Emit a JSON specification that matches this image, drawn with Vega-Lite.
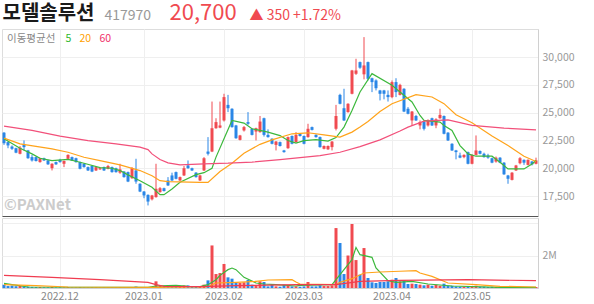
{
"$schema": "https://vega.github.io/schema/vega-lite/v6.json",
"padding": {"left": 1, "top": 1, "right": 0, "bottom": 0},
"autosize": {"type": "pad"},
"background": "white",
"config": {
  "font": "Noto Sans CJK KR",
  "view": {"stroke": null},
  "axis": {"labelFont": "Noto Sans CJK KR", "labelColor": "#999", "labelFontSize": 10.5, "ticks": false, "gridColor": "#efefef", "domainColor": "#d0d0d0"}
},
"datasets": {
"k": [
{"d":"2022-11-11","o":23200,"h":23250,"l":22100,"c":22250,"v":200000},
{"d":"2022-11-14","o":22350,"h":22400,"l":21800,"c":22050,"v":120000},
{"d":"2022-11-15","o":21950,"h":22050,"l":21650,"c":21750,"v":150000},
{"d":"2022-11-16","o":21800,"h":21850,"l":21350,"c":21400,"v":110000},
{"d":"2022-11-17","o":21300,"h":22000,"l":21250,"c":21850,"v":130000},
{"d":"2022-11-18","o":22100,"h":22500,"l":21600,"c":21900,"v":100000},
{"d":"2022-11-21","o":21600,"h":21650,"l":20850,"c":20900,"v":90000},
{"d":"2022-11-22","o":21000,"h":21200,"l":20600,"c":20700,"v":70000},
{"d":"2022-11-23","o":21000,"h":21050,"l":20600,"c":20650,"v":60000},
{"d":"2022-11-24","o":20550,"h":20950,"l":20500,"c":20900,"v":60000},
{"d":"2022-11-25","o":20900,"h":20950,"l":20650,"c":20700,"v":50000},
{"d":"2022-11-28","o":20700,"h":20750,"l":20300,"c":20350,"v":50000},
{"d":"2022-11-29","o":20000,"h":20450,"l":19800,"c":20400,"v":70000},
{"d":"2022-11-30","o":20550,"h":20600,"l":20300,"c":20350,"v":40000},
{"d":"2022-12-01","o":20750,"h":20850,"l":20500,"c":20550,"v":50000},
{"d":"2022-12-02","o":20400,"h":20700,"l":20100,"c":20650,"v":40000},
{"d":"2022-12-05","o":20850,"h":21250,"l":20800,"c":21200,"v":60000},
{"d":"2022-12-06","o":21000,"h":21050,"l":20650,"c":20700,"v":40000},
{"d":"2022-12-07","o":20900,"h":20950,"l":20500,"c":20550,"v":40000},
{"d":"2022-12-08","o":20550,"h":20600,"l":19900,"c":19950,"v":60000},
{"d":"2022-12-09","o":20400,"h":20450,"l":20050,"c":20100,"v":40000},
{"d":"2022-12-12","o":20100,"h":20150,"l":19750,"c":19800,"v":40000},
{"d":"2022-12-13","o":20200,"h":20250,"l":19650,"c":19700,"v":50000},
{"d":"2022-12-14","o":19800,"h":20150,"l":19750,"c":20100,"v":40000},
{"d":"2022-12-15","o":19900,"h":20100,"l":19850,"c":20000,"v":30000},
{"d":"2022-12-16","o":20100,"h":20150,"l":19750,"c":19800,"v":40000},
{"d":"2022-12-19","o":19950,"h":20300,"l":19900,"c":20200,"v":40000},
{"d":"2022-12-20","o":20100,"h":20150,"l":19600,"c":19650,"v":40000},
{"d":"2022-12-21","o":20000,"h":20050,"l":19600,"c":19650,"v":40000},
{"d":"2022-12-22","o":19600,"h":20400,"l":19500,"c":19900,"v":60000},
{"d":"2022-12-23","o":19700,"h":19750,"l":19150,"c":19200,"v":50000},
{"d":"2022-12-26","o":19650,"h":19700,"l":18750,"c":18800,"v":60000},
{"d":"2022-12-27","o":19100,"h":20100,"l":19050,"c":20000,"v":60000},
{"d":"2022-12-28","o":19800,"h":20850,"l":18600,"c":18800,"v":90000},
{"d":"2022-12-29","o":18600,"h":18650,"l":17850,"c":17900,"v":60000},
{"d":"2023-01-02","o":17900,"h":17950,"l":17300,"c":17550,"v":50000},
{"d":"2023-01-03","o":17600,"h":17650,"l":16650,"c":17000,"v":60000},
{"d":"2023-01-04","o":17200,"h":17600,"l":17100,"c":17550,"v":40000},
{"d":"2023-01-05","o":17400,"h":20400,"l":17350,"c":18150,"v":410000},
{"d":"2023-01-06","o":17850,"h":18300,"l":17800,"c":18200,"v":120000},
{"d":"2023-01-09","o":18200,"h":18250,"l":17900,"c":17950,"v":60000},
{"d":"2023-01-10","o":18900,"h":19200,"l":18400,"c":18450,"v":100000},
{"d":"2023-01-11","o":19350,"h":19600,"l":18850,"c":18900,"v":110000},
{"d":"2023-01-12","o":19650,"h":19700,"l":19000,"c":19050,"v":120000},
{"d":"2023-01-13","o":18900,"h":19250,"l":18850,"c":19200,"v":80000},
{"d":"2023-01-16","o":19350,"h":20200,"l":19300,"c":20000,"v":160000},
{"d":"2023-01-17","o":20250,"h":20700,"l":19950,"c":20000,"v":160000},
{"d":"2023-01-18","o":20000,"h":20050,"l":19750,"c":19800,"v":90000},
{"d":"2023-01-19","o":19600,"h":19650,"l":19150,"c":19200,"v":80000},
{"d":"2023-01-20","o":18900,"h":19400,"l":18850,"c":19350,"v":80000},
{"d":"2023-01-25","o":19800,"h":21000,"l":19750,"c":20900,"v":205000},
{"d":"2023-01-26","o":21500,"h":22800,"l":21150,"c":21300,"v":470000},
{"d":"2023-01-27","o":21500,"h":26000,"l":21450,"c":23600,"v":2620000},
{"d":"2023-01-30","o":23600,"h":24500,"l":23550,"c":24150,"v":860000},
{"d":"2023-01-31","o":23650,"h":26000,"l":23600,"c":23850,"v":920000},
{"d":"2023-02-01","o":24300,"h":26700,"l":24200,"c":26400,"v":1480000},
{"d":"2023-02-02","o":25700,"h":26600,"l":25050,"c":25400,"v":656000},
{"d":"2023-02-03","o":25350,"h":25400,"l":23650,"c":23700,"v":574000},
{"d":"2023-02-06","o":23850,"h":23900,"l":22650,"c":22700,"v":350000},
{"d":"2023-02-07","o":22550,"h":23000,"l":22500,"c":22950,"v":310000},
{"d":"2023-02-08","o":23400,"h":23800,"l":23300,"c":23700,"v":350000},
{"d":"2023-02-09","o":24150,"h":25050,"l":23900,"c":24000,"v":490000},
{"d":"2023-02-10","o":23550,"h":23600,"l":22950,"c":23000,"v":205000},
{"d":"2023-02-13","o":23300,"h":23650,"l":22500,"c":23600,"v":120000},
{"d":"2023-02-14","o":23250,"h":24700,"l":23200,"c":24200,"v":410000},
{"d":"2023-02-15","o":24500,"h":24550,"l":22850,"c":23000,"v":370000},
{"d":"2023-02-16","o":23000,"h":23500,"l":22750,"c":22800,"v":100000},
{"d":"2023-02-17","o":22650,"h":22700,"l":22150,"c":22200,"v":205000},
{"d":"2023-02-20","o":22100,"h":22450,"l":21600,"c":22400,"v":100000},
{"d":"2023-02-21","o":22350,"h":22400,"l":21950,"c":22000,"v":80000},
{"d":"2023-02-22","o":21600,"h":21650,"l":21400,"c":21450,"v":205000},
{"d":"2023-02-23","o":21800,"h":22850,"l":21750,"c":22800,"v":165000},
{"d":"2023-02-24","o":22900,"h":22950,"l":22150,"c":22200,"v":100000},
{"d":"2023-02-27","o":22350,"h":23250,"l":22300,"c":23000,"v":100000},
{"d":"2023-02-28","o":23100,"h":23150,"l":22850,"c":22900,"v":80000},
{"d":"2023-03-02","o":22900,"h":22950,"l":22150,"c":22200,"v":100000},
{"d":"2023-03-03","o":22800,"h":24000,"l":22750,"c":23550,"v":370000},
{"d":"2023-03-06","o":23700,"h":23750,"l":23400,"c":23450,"v":100000},
{"d":"2023-03-07","o":23000,"h":23050,"l":22750,"c":22800,"v":100000},
{"d":"2023-03-08","o":22800,"h":22850,"l":21850,"c":21900,"v":165000},
{"d":"2023-03-09","o":21750,"h":22050,"l":21700,"c":22000,"v":120000},
{"d":"2023-03-10","o":21700,"h":22050,"l":21650,"c":22000,"v":120000},
{"d":"2023-03-13","o":21900,"h":22450,"l":21600,"c":22400,"v":165000},
{"d":"2023-03-14","o":23550,"h":25700,"l":23400,"c":24700,"v":3690000},
{"d":"2023-03-15","o":26600,"h":26700,"l":25750,"c":25800,"v":2770000},
{"d":"2023-03-16","o":25400,"h":27150,"l":24250,"c":24300,"v":860000},
{"d":"2023-03-17","o":25050,"h":25850,"l":25000,"c":25800,"v":2000000},
{"d":"2023-03-20","o":26700,"h":28850,"l":26650,"c":28800,"v":3940000},
{"d":"2023-03-21","o":28500,"h":29850,"l":28400,"c":28800,"v":1720000},
{"d":"2023-03-22","o":29550,"h":29600,"l":28950,"c":29050,"v":820000},
{"d":"2023-03-23","o":28450,"h":31800,"l":28000,"c":29250,"v":2460000},
{"d":"2023-03-24","o":29550,"h":29600,"l":27900,"c":28050,"v":615000},
{"d":"2023-03-27","o":28100,"h":28150,"l":26850,"c":27750,"v":350000},
{"d":"2023-03-28","o":27900,"h":28000,"l":27000,"c":27200,"v":310000},
{"d":"2023-03-29","o":27000,"h":27050,"l":26100,"c":26700,"v":370000},
{"d":"2023-03-30","o":27000,"h":27050,"l":26200,"c":26700,"v":370000},
{"d":"2023-03-31","o":26600,"h":27000,"l":26000,"c":26400,"v":410000},
{"d":"2023-04-03","o":26400,"h":27900,"l":26300,"c":27750,"v":510000},
{"d":"2023-04-04","o":27750,"h":28100,"l":26400,"c":26850,"v":615000},
{"d":"2023-04-05","o":26600,"h":27600,"l":26550,"c":27500,"v":410000},
{"d":"2023-04-06","o":27150,"h":27200,"l":25050,"c":25100,"v":470000},
{"d":"2023-04-07","o":25350,"h":25500,"l":24850,"c":24900,"v":246000},
{"d":"2023-04-10","o":24300,"h":25150,"l":23800,"c":25100,"v":267000},
{"d":"2023-04-11","o":24700,"h":24800,"l":24250,"c":24300,"v":246000},
{"d":"2023-04-12","o":23850,"h":24300,"l":23500,"c":24150,"v":205000},
{"d":"2023-04-13","o":24200,"h":24250,"l":23400,"c":23550,"v":165000},
{"d":"2023-04-14","o":23850,"h":24400,"l":23750,"c":24300,"v":205000},
{"d":"2023-04-17","o":24500,"h":24550,"l":23800,"c":23850,"v":140000},
{"d":"2023-04-18","o":23850,"h":24500,"l":23600,"c":24400,"v":205000},
{"d":"2023-04-19","o":24500,"h":25350,"l":24450,"c":24800,"v":140000},
{"d":"2023-04-20","o":24700,"h":24750,"l":23050,"c":23100,"v":267000},
{"d":"2023-04-21","o":23200,"h":23250,"l":22450,"c":22500,"v":140000},
{"d":"2023-04-24","o":22200,"h":22250,"l":21550,"c":21600,"v":140000},
{"d":"2023-04-25","o":21600,"h":21650,"l":20800,"c":21450,"v":100000},
{"d":"2023-04-26","o":21150,"h":21400,"l":20900,"c":20950,"v":80000},
{"d":"2023-04-27","o":21000,"h":21250,"l":20900,"c":21200,"v":80000},
{"d":"2023-04-28","o":21450,"h":21500,"l":20350,"c":20400,"v":100000},
{"d":"2023-05-02","o":20400,"h":21250,"l":20350,"c":21200,"v":100000},
{"d":"2023-05-03","o":21200,"h":22950,"l":21150,"c":21600,"v":140000},
{"d":"2023-05-04","o":21550,"h":21600,"l":21250,"c":21300,"v":80000},
{"d":"2023-05-08","o":21300,"h":21400,"l":20950,"c":21000,"v":80000},
{"d":"2023-05-09","o":21150,"h":21300,"l":20850,"c":20950,"v":60000},
{"d":"2023-05-10","o":20900,"h":20950,"l":20450,"c":20500,"v":80000},
{"d":"2023-05-11","o":20600,"h":21050,"l":20500,"c":20950,"v":60000},
{"d":"2023-05-12","o":20950,"h":21000,"l":20450,"c":20500,"v":60000},
{"d":"2023-05-15","o":20500,"h":20550,"l":19400,"c":19450,"v":100000},
{"d":"2023-05-16","o":19350,"h":19400,"l":18600,"c":19050,"v":80000},
{"d":"2023-05-17","o":18950,"h":19650,"l":18900,"c":19600,"v":60000},
{"d":"2023-05-18","o":19800,"h":20300,"l":19750,"c":20250,"v":60000},
{"d":"2023-05-19","o":20450,"h":21000,"l":20350,"c":20900,"v":80000},
{"d":"2023-05-22","o":20750,"h":20800,"l":20300,"c":20500,"v":50000},
{"d":"2023-05-23","o":20300,"h":20800,"l":20250,"c":20750,"v":60000},
{"d":"2023-05-24","o":20600,"h":20650,"l":20250,"c":20350,"v":40000},
{"d":"2023-05-25","o":20400,"h":20950,"l":20350,"c":20700,"v":60000}
],
"ma": [
{"d":"2022-11-11","s":"5","p":22650},{"d":"2022-11-17","s":"5","p":21800},{"d":"2022-11-22","s":"5","p":21290},{"d":"2022-11-24","s":"5","p":20900},{"d":"2022-11-29","s":"5","p":20690},{"d":"2022-12-05","s":"5","p":20800},{"d":"2022-12-07","s":"5","p":20630},{"d":"2022-12-09","s":"5","p":20450},{"d":"2022-12-15","s":"5","p":20050},{"d":"2022-12-20","s":"5","p":20000},{"d":"2022-12-22","s":"5","p":19790},{"d":"2022-12-26","s":"5","p":19400},{"d":"2022-12-29","s":"5","p":18880},{"d":"2023-01-04","s":"5","p":18280},{"d":"2023-01-06","s":"5","p":17620},{"d":"2023-01-09","s":"5","p":17620},{"d":"2023-01-11","s":"5","p":18130},{"d":"2023-01-13","s":"5","p":18730},{"d":"2023-01-19","s":"5","p":19420},{"d":"2023-01-25","s":"5","p":19600},{"d":"2023-01-27","s":"5","p":20000},{"d":"2023-01-30","s":"5","p":21000},{"d":"2023-02-01","s":"5","p":22650},{"d":"2023-02-03","s":"5","p":24300},{"d":"2023-02-08","s":"5","p":24060},{"d":"2023-02-10","s":"5","p":23550},{"d":"2023-02-14","s":"5","p":23400},{"d":"2023-02-16","s":"5","p":23250},{"d":"2023-02-21","s":"5","p":22940},{"d":"2023-02-23","s":"5","p":22490},{"d":"2023-02-27","s":"5","p":22260},{"d":"2023-03-02","s":"5","p":22490},{"d":"2023-03-07","s":"5","p":22580},{"d":"2023-03-10","s":"5","p":22440},{"d":"2023-03-14","s":"5","p":22760},{"d":"2023-03-16","s":"5","p":23700},{"d":"2023-03-20","s":"5","p":25200},{"d":"2023-03-22","s":"5","p":26860},{"d":"2023-03-27","s":"5","p":28510},{"d":"2023-04-03","s":"5","p":27460},{"d":"2023-04-05","s":"5","p":26860},{"d":"2023-04-10","s":"5","p":25960},{"d":"2023-04-12","s":"5","p":24750},{"d":"2023-04-13","s":"5","p":24300},{"d":"2023-04-19","s":"5","p":24150},{"d":"2023-04-20","s":"5","p":23850},{"d":"2023-04-24","s":"5","p":23400},{"d":"2023-04-26","s":"5","p":22040},{"d":"2023-04-28","s":"5","p":21290},{"d":"2023-05-03","s":"5","p":21080},{"d":"2023-05-10","s":"5","p":21080},{"d":"2023-05-12","s":"5","p":20540},{"d":"2023-05-16","s":"5","p":19940},{"d":"2023-05-22","s":"5","p":19940},{"d":"2023-05-24","s":"5","p":20390},{"d":"2023-05-25","s":"5","p":20690},
{"d":"2022-11-11","s":"20","p":22710},{"d":"2022-11-17","s":"20","p":22190},{"d":"2022-11-29","s":"20","p":21740},{"d":"2022-12-05","s":"20","p":21440},{"d":"2022-12-09","s":"20","p":20990},{"d":"2022-12-15","s":"20","p":20690},{"d":"2022-12-22","s":"20","p":20300},{"d":"2022-12-29","s":"20","p":19790},{"d":"2023-01-04","s":"20","p":19330},{"d":"2023-01-06","s":"20","p":18880},{"d":"2023-01-10","s":"20","p":18790},{"d":"2023-01-20","s":"20","p":18730},{"d":"2023-01-26","s":"20","p":18730},{"d":"2023-01-31","s":"20","p":19700},{"d":"2023-02-03","s":"20","p":20450},{"d":"2023-02-08","s":"20","p":21350},{"d":"2023-02-14","s":"20","p":22150},{"d":"2023-02-17","s":"20","p":22550},{"d":"2023-02-24","s":"20","p":23100},{"d":"2023-03-03","s":"20","p":23190},{"d":"2023-03-09","s":"20","p":23000},{"d":"2023-03-15","s":"20","p":22800},{"d":"2023-03-20","s":"20","p":23250},{"d":"2023-03-22","s":"20","p":23700},{"d":"2023-03-24","s":"20","p":24200},{"d":"2023-03-29","s":"20","p":25100},{"d":"2023-04-03","s":"20","p":25810},{"d":"2023-04-11","s":"20","p":26620},{"d":"2023-04-17","s":"20","p":26410},{"d":"2023-04-20","s":"20","p":25810},{"d":"2023-04-25","s":"20","p":24810},{"d":"2023-05-02","s":"20","p":24090},{"d":"2023-05-10","s":"20","p":22890},{"d":"2023-05-16","s":"20","p":22040},{"d":"2023-05-22","s":"20","p":21080},{"d":"2023-05-25","s":"20","p":20600},
{"d":"2022-11-11","s":"60","p":23790},{"d":"2022-11-22","s":"60","p":23400},{"d":"2022-12-01","s":"60","p":22890},{"d":"2022-12-12","s":"60","p":22490},{"d":"2022-12-21","s":"60","p":22190},{"d":"2022-12-29","s":"60","p":21900},{"d":"2023-01-03","s":"60","p":21680},{"d":"2023-01-04","s":"60","p":21290},{"d":"2023-01-06","s":"60","p":20780},{"d":"2023-01-10","s":"60","p":20480},{"d":"2023-01-13","s":"60","p":20300},{"d":"2023-01-25","s":"60","p":20400},{"d":"2023-02-02","s":"60","p":20450},{"d":"2023-02-10","s":"60","p":20550},{"d":"2023-02-21","s":"60","p":20780},{"d":"2023-03-08","s":"60","p":21140},{"d":"2023-03-15","s":"60","p":21440},{"d":"2023-03-22","s":"60","p":21950},{"d":"2023-03-29","s":"60","p":22550},{"d":"2023-04-05","s":"60","p":23350},{"d":"2023-04-07","s":"60","p":23700},{"d":"2023-04-13","s":"60","p":24240},{"d":"2023-04-21","s":"60","p":24350},{"d":"2023-05-02","s":"60","p":23850},{"d":"2023-05-15","s":"60","p":23610},{"d":"2023-05-25","s":"60","p":23460}
],
"vma": [
{"d":"2022-11-11","s":"5","v":287000},{"d":"2022-11-21","s":"5","v":62000},{"d":"2023-01-03","s":"5","v":41000},{"d":"2023-01-05","s":"5","v":123000},{"d":"2023-01-10","s":"5","v":144000},{"d":"2023-01-12","s":"5","v":164000},{"d":"2023-01-17","s":"5","v":103000},{"d":"2023-01-20","s":"5","v":82000},{"d":"2023-01-26","s":"5","v":205000},{"d":"2023-01-30","s":"5","v":512000},{"d":"2023-01-31","s":"5","v":779000},{"d":"2023-02-02","s":"5","v":1130000},{"d":"2023-02-03","s":"5","v":1230000},{"d":"2023-02-06","s":"5","v":1130000},{"d":"2023-02-08","s":"5","v":656000},{"d":"2023-02-13","s":"5","v":308000},{"d":"2023-02-15","s":"5","v":246000},{"d":"2023-02-20","s":"5","v":205000},{"d":"2023-02-27","s":"5","v":123000},{"d":"2023-02-28","s":"5","v":164000},{"d":"2023-03-13","s":"5","v":205000},{"d":"2023-03-14","s":"5","v":512000},{"d":"2023-03-16","s":"5","v":1130000},{"d":"2023-03-20","s":"5","v":1740000},{"d":"2023-03-21","s":"5","v":2500000},{"d":"2023-03-22","s":"5","v":2050000},{"d":"2023-03-27","s":"5","v":1890000},{"d":"2023-03-28","s":"5","v":1230000},{"d":"2023-03-31","s":"5","v":451000},{"d":"2023-04-04","s":"5","v":349000},{"d":"2023-04-10","s":"5","v":410000},{"d":"2023-04-14","s":"5","v":246000},{"d":"2023-04-24","s":"5","v":123000},{"d":"2023-05-12","s":"5","v":41000},{"d":"2023-05-25","s":"5","v":41000},
{"d":"2022-11-11","s":"20","v":205000},{"d":"2022-11-23","s":"20","v":144000},{"d":"2022-12-05","s":"20","v":62000},{"d":"2023-01-05","s":"20","v":41000},{"d":"2023-01-26","s":"20","v":80000},{"d":"2023-01-30","s":"20","v":308000},{"d":"2023-02-06","s":"20","v":349000},{"d":"2023-02-13","s":"20","v":410000},{"d":"2023-02-16","s":"20","v":492000},{"d":"2023-02-24","s":"20","v":512000},{"d":"2023-02-27","s":"20","v":369000},{"d":"2023-02-28","s":"20","v":246000},{"d":"2023-03-14","s":"20","v":205000},{"d":"2023-03-15","s":"20","v":349000},{"d":"2023-03-20","s":"20","v":574000},{"d":"2023-03-23","s":"20","v":922000},{"d":"2023-03-29","s":"20","v":984000},{"d":"2023-04-05","s":"20","v":1030000},{"d":"2023-04-11","s":"20","v":1070000},{"d":"2023-04-12","s":"20","v":922000},{"d":"2023-04-17","s":"20","v":717000},{"d":"2023-04-21","s":"20","v":308000},{"d":"2023-05-03","s":"20","v":205000},{"d":"2023-05-12","s":"20","v":103000},{"d":"2023-05-25","s":"20","v":62000},
{"d":"2022-11-11","s":"60","v":779000},{"d":"2022-11-29","s":"60","v":656000},{"d":"2022-12-15","s":"60","v":512000},{"d":"2023-01-03","s":"60","v":349000},{"d":"2023-01-05","s":"60","v":205000},{"d":"2023-01-09","s":"60","v":103000},{"d":"2023-01-20","s":"60","v":82000},{"d":"2023-02-06","s":"60","v":144000},{"d":"2023-02-27","s":"60","v":205000},{"d":"2023-03-14","s":"60","v":205000},{"d":"2023-03-22","s":"60","v":410000},{"d":"2023-04-05","s":"60","v":471000},{"d":"2023-04-28","s":"60","v":512000},{"d":"2023-05-25","s":"60","v":451000}
],
"hdr1": [{"t":"모델솔루션"}],
"hdr2": [{"t":"417970"}],
"hdr3": [{"t":"20,700"}],
"hdr4": [{"t":"▲ 350 +1.72%"}],
"wm": [{"t":"©PAXNet"}]
},
"spacing": 4,
"vconcat": [
{
  "spacing": 9,
  "hconcat": [
    {"width": 1, "height": 1, "data": {"name": "hdr1"}, "mark": {"type": "text", "align": "left", "baseline": "alphabetic", "fontSize": 20, "fontWeight": "bold", "color": "#1a1a1a"}, "encoding": {"text": {"field": "t"}}},
    {"width": 1, "height": 1, "data": {"name": "hdr2"}, "mark": {"type": "text", "align": "left", "baseline": "alphabetic", "fontSize": 14, "color": "#999"}, "encoding": {"text": {"field": "t"}}},
    {"width": 1, "height": 1, "data": {"name": "hdr3"}, "mark": {"type": "text", "align": "left", "baseline": "alphabetic", "fontSize": 22, "dx": 8, "color": "#f04a50"}, "encoding": {"text": {"field": "t"}}},
    {"width": 1, "height": 1, "data": {"name": "hdr4"}, "mark": {"type": "text", "align": "left", "baseline": "alphabetic", "fontSize": 14, "dx": 3, "color": "#f04a50"}, "encoding": {"text": {"field": "t"}}}
  ]
},
{
  "spacing": 0,
  "resolve": {"scale": {"stroke": "independent"}, "legend": {"stroke": "independent"}},
  "vconcat": [
  {
    "width": 536, "height": 187,
    "view": {"stroke": "#dddddd"},
    "encoding": {
      "x": {"field": "d", "type": "ordinal", "title": null, "scale": {"paddingInner": 0, "paddingOuter": 0},
        "axis": {"orient": "bottom", "labels": false, "ticks": false, "domainColor": "#555", "grid": true,
          "values": ["2022-12-01","2023-01-02","2023-02-01","2023-03-02","2023-04-03","2023-05-02"]}}
    },
    "layer": [
      {"data": {"name": "k"}, "mark": {"type": "rule", "strokeWidth": 1},
       "encoding": {
         "y": {"field": "l", "type": "quantitative", "title": null, "scale": {"domain": [15700, 32530], "nice": false, "zero": false},
           "axis": {"orient": "right", "values": [17500, 20000, 22500, 25000, 27500, 30000], "labelExpr": "format(datum.value, ',')", "grid": true, "labelPadding": 4, "title": null}},
         "y2": {"field": "h"},
         "color": {"condition": {"test": "datum.c >= datum.o", "value": "#f04a50"}, "value": "#2a86e6"}}},
      {"data": {"name": "k"}, "mark": {"type": "bar", "width": {"band": 0.75}},
       "encoding": {
         "y": {"field": "o", "type": "quantitative", "title": null, "scale": {"domain": [15700, 32530], "nice": false, "zero": false},
           "axis": {"orient": "right", "values": [17500, 20000, 22500, 25000, 27500, 30000], "labelExpr": "format(datum.value, ',')", "grid": true, "labelPadding": 4, "title": null}},
         "y2": {"field": "c"},
         "color": {"condition": {"test": "datum.c >= datum.o", "value": "#f04a50"}, "value": "#2a86e6"}}},
      {"data": {"name": "ma"}, "mark": {"type": "line", "strokeWidth": 1.2},
       "encoding": {
         "y": {"field": "p", "type": "quantitative", "title": null, "scale": {"domain": [15700, 32530], "nice": false, "zero": false},
           "axis": {"orient": "right", "values": [17500, 20000, 22500, 25000, 27500, 30000], "labelExpr": "format(datum.value, ',')", "grid": true, "labelPadding": 4, "title": null}},
         "stroke": {"field": "s", "type": "nominal", "scale": {"domain": ["5", "20", "60"], "range": ["#3cb83c", "#ffa31a", "#f2507a"]},
           "legend": {"orient": "top-left", "direction": "horizontal", "title": "이동평균선", "titleOrient": "left", "titleColor": "#888", "titleFontSize": 10.5, "titleFontWeight": "normal", "titlePadding": 6,
             "labelFontSize": 10.5, "labelColor": {"expr": "datum.label == '5' ? '#2db82d' : datum.label == '20' ? '#ffa000' : '#f0306a'"},
             "gridAlign": "none", "symbolType": "circle", "symbolSize": 0, "symbolStrokeWidth": 0, "symbolOpacity": 0, "symbolOffset": 0, "labelOffset": -7, "columnPadding": 4, "offset": 5, "padding": 0}}}},
      {"data": {"name": "wm"}, "mark": {"type": "text", "align": "left", "baseline": "alphabetic", "fontSize": 15, "fontWeight": "bold", "color": "#cccccc"},
       "encoding": {
         "x": {"datum": "2022-11-11"},
         "y": {"datum": 16250, "type": "quantitative", "title": null, "scale": {"domain": [15700, 32530], "nice": false, "zero": false},
           "axis": {"orient": "right", "values": [17500, 20000, 22500, 25000, 27500, 30000], "labelExpr": "format(datum.value, ',')", "grid": true, "labelPadding": 4, "title": null}},
         "text": {"field": "t"}}}
    ]
  },
  {
    "width": 536, "height": 70,
    "view": {"stroke": "#dddddd"},
    "encoding": {
      "x": {"field": "d", "type": "ordinal", "title": null, "scale": {"paddingInner": 0, "paddingOuter": 0},
        "axis": {"orient": "bottom", "labelAngle": 0, "ticks": false, "grid": true, "labelPadding": 3, "labelColor": "#888",
          "values": ["2022-12-01","2023-01-02","2023-02-01","2023-03-02","2023-04-03","2023-05-02"],
          "labelExpr": "replace(slice(datum.value, 0, 7), '-', '.')"}}
    },
    "layer": [
      {"data": {"name": "k"}, "mark": {"type": "bar", "width": {"band": 0.75}},
       "encoding": {
         "y": {"field": "v", "type": "quantitative", "title": null, "scale": {"domain": [0, 4310000], "nice": false},
           "axis": {"orient": "right", "values": [2000000, 4000000], "labelExpr": "datum.value == 2000000 ? '2M' : ''", "grid": true, "labelPadding": 4, "title": null}},
         "color": {"condition": {"test": "datum.c >= datum.o", "value": "#f04a50"}, "value": "#2a86e6"}}},
      {"data": {"name": "vma"}, "mark": {"type": "line", "strokeWidth": 1.2},
       "encoding": {
         "y": {"field": "v", "type": "quantitative", "title": null, "scale": {"domain": [0, 4310000], "nice": false},
           "axis": {"orient": "right", "values": [2000000, 4000000], "labelExpr": "datum.value == 2000000 ? '2M' : ''", "grid": true, "labelPadding": 4, "title": null}},
         "stroke": {"field": "s", "type": "nominal", "scale": {"domain": ["5", "20", "60"], "range": ["#3cb83c", "#ffa31a", "#f03c50"]}, "legend": null}}}
    ]
  }
  ]
}
]
}
